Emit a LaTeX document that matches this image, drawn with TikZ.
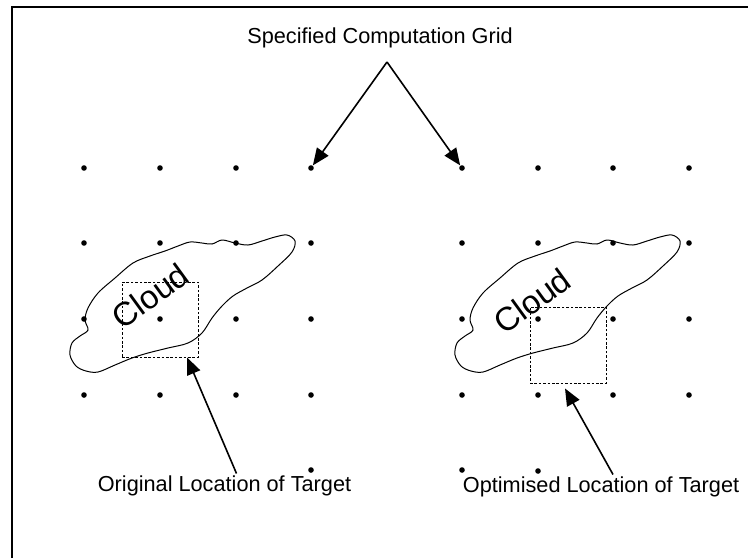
\documentclass[tikz,border=0pt]{standalone}
\usepackage{fontspec}
\setmainfont{Liberation Sans}
\usetikzlibrary{arrows.meta}
\tikzset{
  gdot/.style={circle,fill,inner sep=0pt,minimum size=2.8pt},
  lbl/.style={font=\fontsize{10.85}{13}\selectfont,inner sep=1pt},
  cloudlbl/.style={font=\fontsize{16.5}{19}\selectfont,rotate=36,inner sep=0pt},
  ptr/.style={line width=0.8pt,-{Triangle[length=8.5pt,width=7pt]}},
  tbox/.style={draw,line width=0.45pt,dash pattern=on 1.3pt off 0.9pt,inner sep=0pt}
}
% outline of the cloud, in pixel units
\newcommand{\cloudoutline}{plot[smooth cycle,tension=0.55] coordinates {
  (287,235) (295,241) (292,252) (278,266) (262,280) (247,288) (233,296)
  (222,306) (212,318) (202,333) (188,343) (168,348) (148,353) (132,358)
  (115,365) (98,372) (86,371) (76,366) (70,355) (72,343) (80,336)
  (88,330) (85,320) (88,308) (98,293) (115,278) (133,263) (150,256)
  (165,251) (178,246) (190,242) (202,243) (212,244) (222,240) (235,243)
  (248,245) (262,241) (275,237)}}
\begin{document}
\begin{tikzpicture}[x=0.5pt,y=-0.5pt]
\useasboundingbox (0,0) rectangle (748,558);
\draw[line width=1pt] (12,558) -- (12,7) -- (748,7);
% grids
\foreach \c [count=\i] in {84,160,236,311}
  \foreach \r [count=\j] in {168,243,319,395}
    \node[gdot] (gl-\i-\j) at (\c,\r) {};
\foreach \c [count=\i] in {462,538,613,689}
  \foreach \r [count=\j] in {168,243,319,395}
    \node[gdot] (gr-\i-\j) at (\c,\r) {};
\node[gdot] (gl-4-5) at (311,470) {};
\node[gdot] (gr-1-5) at (462,470) {};
\node[gdot] (gr-2-5) at (538,471) {};
% clouds
\draw[line width=0.5pt] \cloudoutline;
\draw[line width=0.5pt,shift={(385,0)}] \cloudoutline;
\node[cloudlbl] (cloudl) at (150,296) {Cloud};
\node[cloudlbl] (cloudr) at (532,301) {Cloud};
% target boxes
\node[tbox,minimum width=38pt,minimum height=37.5pt] (origbox) at (160,319.5) {};
\node[tbox,minimum width=38pt,minimum height=38pt] (optbox) at (568,345) {};
% labels
\node[lbl] (gridlbl) at (380,38) {Specified Computation Grid};
\coordinate (apex) at (387,62);
\node[lbl] (origlbl) at (224.5,486) {Original Location of Target};
\node[lbl] (optlbl) at (601,487) {Optimised Location of Target};
% arrows
\draw[ptr] (apex) -- (gl-4-1);
\draw[ptr] (apex) -- (gr-1-1);
\draw[ptr] ([xshift=6pt]origlbl.north) -- ([xshift=13.5pt]origbox.south);
\draw[ptr] ([xshift=6pt]optlbl.north) -- ([xshift=-1.5pt,yshift=-2.5pt]optbox.south);
\end{tikzpicture}
\end{document}
